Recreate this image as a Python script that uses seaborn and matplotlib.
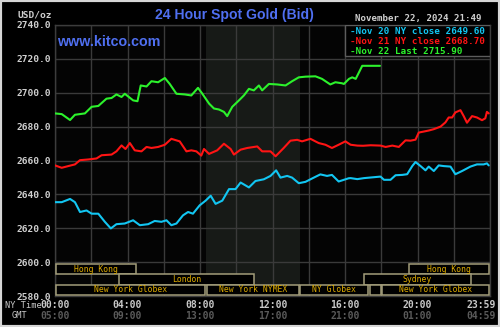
import matplotlib
matplotlib.use("Agg")
import matplotlib.pyplot as plt
import seaborn as sns
import pandas as pd
from matplotlib.patches import Rectangle

# ---- price traces (hour of NY day, USD/oz) ----
nov20_hours = [0, .37, .83, 1.10, 1.38, 1.74, 2.02, 2.39, 2.75, 3.08, 3.39, 3.85, 4.31, 4.68, 5.14,
               5.50, 5.87, 6.15, 6.42, 6.70, 7.06, 7.34, 7.61, 7.98,
               8.31, 8.59, 8.86, 9.23, 9.60, 9.96, 10.24, 10.70, 11.06, 11.52, 11.89, 12.20, 12.44,
               12.81, 13.08, 13.45, 13.82, 14.28, 14.64, 15.01, 15.28, 15.65, 16.20,
               16.31, 16.68, 17.05, 17.96, 18.15, 18.51, 18.79, 19.16, 19.43, 19.71, 19.89, 20.17,
               20.44, 20.62, 20.90, 21.17, 21.45, 21.82, 22.09, 22.46, 22.92, 23.28, 23.65, 23.83, 23.93]
nov20_prices = [2635.4, 2635.4, 2637.3, 2635.4, 2629.6, 2630.5, 2628.6, 2628.6, 2623.8, 2619.9, 2622.4,
                2622.8, 2624.7, 2621.8, 2622.4, 2624.3, 2623.8, 2624.7, 2621.8, 2622.8, 2627.6, 2629.6,
                2628.6, 2633.5,
                2636.3, 2639.2, 2634.4, 2636.3, 2643.1, 2643.1, 2647.0, 2644.1, 2647.9, 2648.9, 2650.9,
                2654.2, 2649.9, 2650.9, 2649.9, 2646.6, 2647.4, 2649.9, 2651.8, 2650.9, 2651.5, 2647.6,
                2649.5,
                2649.6, 2649.0, 2649.6, 2650.5, 2648.6, 2648.6, 2651.3, 2651.5, 2651.9, 2656.7, 2659.1,
                2656.7, 2654.2, 2656.4, 2653.8, 2657.1, 2656.7, 2656.4, 2651.9, 2653.8, 2656.4, 2657.7,
                2657.7, 2658.3, 2657.1]

nov21_hours = [0, .37, .73, 1.10, 1.38, 1.83, 2.29, 2.57, 3.12, 3.39, 3.67, 3.89, 4.13, 4.40, 4.77,
               5.05, 5.32, 5.69, 6.06, 6.42, 6.88, 7.25, 7.52, 7.80, 8.07,
               8.22, 8.50, 8.95, 9.32, 9.69, 9.87, 10.24, 10.61, 11.16, 11.43, 11.89, 12.17, 12.62,
               12.99, 13.36, 13.63, 14.09, 14.55, 14.92, 15.28, 15.65, 16.02,
               16.31, 16.68, 17.00, 17.41, 17.96, 18.24, 18.61, 18.97, 19.34, 19.61, 19.89, 20.07,
               20.35, 20.62, 20.90, 21.27, 21.54, 21.72, 21.91, 22.09, 22.37, 22.55, 22.73, 23.01,
               23.28, 23.56, 23.74, 23.83, 23.93]
nov21_prices = [2657.1, 2655.7, 2656.7, 2657.7, 2660.2, 2660.6, 2661.2, 2663.1, 2663.5, 2665.4, 2668.9,
                2666.8, 2670.3, 2666.0, 2665.4, 2668.0, 2667.4, 2668.0, 2669.3, 2672.8, 2671.3, 2665.4,
                2666.0, 2665.4, 2662.9,
                2666.8, 2663.9, 2666.0, 2669.9, 2666.8, 2663.5, 2666.4, 2667.4, 2668.3, 2665.4, 2665.4,
                2662.5, 2667.4, 2671.7, 2672.2, 2671.3, 2672.8, 2670.3, 2669.3, 2667.4, 2669.3, 2671.3,
                2669.3, 2668.8, 2668.7, 2669.0, 2668.8, 2668.0, 2668.8, 2668.0, 2671.9, 2671.7, 2672.3,
                2676.5, 2677.1, 2677.7, 2678.5, 2680.0, 2682.5, 2685.4, 2685.4, 2688.4, 2689.7, 2686.2,
                2682.3, 2686.2, 2685.4, 2683.8, 2684.9, 2688.7, 2687.8]

nov22_hours = [0, .37, .83, 1.10, 1.65, 2.02, 2.39, 2.84, 3.12, 3.39, 3.67, 3.85, 4.31, 4.55, 4.73,
               5.05, 5.32, 5.69, 6.06, 6.33, 6.70, 7.16, 7.52, 7.89,
               8.13, 8.50, 8.77, 9.05, 9.32, 9.50, 9.78, 10.15, 10.42, 10.70, 10.97, 11.25, 11.43,
               11.80, 12.26, 12.72, 13.08, 13.45, 13.82, 14.37, 14.73, 15.19, 15.47, 15.83,
               15.94, 16.22, 16.40, 16.59, 16.77, 16.95, 17.93]
nov22_prices = [2687.8, 2687.4, 2683.9, 2687.0, 2687.8, 2691.7, 2692.2, 2696.5, 2696.9, 2699.0, 2697.5,
                2699.4, 2695.5, 2695.0, 2704.3, 2703.7, 2706.8, 2706.2, 2708.7, 2705.2, 2699.4, 2699.0,
                2698.4, 2702.9,
                2699.4, 2693.6, 2690.7, 2690.1, 2688.7, 2686.2, 2691.7, 2695.5, 2698.4, 2702.3, 2701.4,
                2704.3, 2701.4, 2705.2, 2704.9, 2704.3, 2706.8, 2709.1, 2709.5, 2709.7, 2708.2, 2704.9,
                2706.2, 2705.6,
                2705.2, 2708.2, 2709.1, 2708.2, 2712.0, 2715.9, 2715.9]

day_names = ["Nov 20", "Nov 21", "Nov 22"]
legend_labels = ["-Nov 20 NY close 2649.60", "-Nov 21 NY close 2668.70", "-Nov 22 Last 2715.90"]
line_colors = ["#12c6f2", "#ff1414", "#2cf22c"]

y_ticks = [2580, 2600, 2620, 2640, 2660, 2680, 2700, 2720, 2740]
ny_time_labels = ["00:00", "04:00", "08:00", "12:00", "16:00", "20:00", "23:59"]
gmt_time_labels = ["05:00", "09:00", "13:00", "17:00", "21:00", "01:00", "04:59"]
time_label_hours = [0, 4, 8, 12, 16, 20, 24]

# trading sessions: (row, start hour, end hour, label)
sessions = [
    (0, 0.0, 4.5, "Hong Kong"),
    (0, 19.5, 24.0, "Hong Kong"),
    (1, 3.5, 11.0, "London"),
    (1, 17.0, 23.0, "Sydney"),
    (2, 0.0, 8.33, "New York Globex"),
    (2, 8.33, 13.5, "New York NYMEX"),
    (2, 13.5, 17.28, "NY Globex"),
    (2, 17.33, 18.0, ""),
    (2, 18.0, 24.0, "New York Globex"),
]
pit_session = (8.33, 13.5)

frames = []
for name, h, p in zip(day_names, [nov20_hours, nov21_hours, nov22_hours],
                      [nov20_prices, nov21_prices, nov22_prices]):
    frames.append(pd.DataFrame({"hour": h, "price": p, "day": name}))
df = pd.concat(frames, ignore_index=True)

sns.set_theme(style="dark", rc={
    "axes.facecolor": "#040404",
    "figure.facecolor": "#000000",
    "axes.edgecolor": "#3c3c3c",
    "grid.color": "#3a3a3a",
})

MONO = "DejaVu Sans Mono"
W, H = 500, 327

fig = plt.figure(figsize=(W / 100, H / 100), dpi=100, facecolor="#000000")
ax_left, ax_right, ax_top, ax_bot = 55, 490, 25, 296
ax = fig.add_axes([ax_left / W, 1 - ax_bot / H, (ax_right - ax_left) / W, (ax_bot - ax_top) / H])

ax.axvspan(*pit_session, color="#171a17", zorder=0.2, lw=0)

sns.lineplot(data=df, x="hour", y="price", hue="day", palette=dict(zip(day_names, line_colors)),
             estimator=None, sort=False, legend=False, lw=1.5, ax=ax, zorder=3)

ax.set_xlim(0, 24)
ax.set_ylim(2580, 2740)
ax.set_xticks(range(0, 25, 2))
ax.set_yticks(y_ticks)
ax.set_yticklabels([f"{v:.1f}" for v in y_ticks])
ax.grid(True, color="#3a3a3a", lw=1.0)
ax.tick_params(axis="x", labelbottom=False, length=0)
ax.tick_params(axis="y", length=0, pad=3, labelsize=6.8, labelcolor="#cfcfcf")
for lab in ax.get_yticklabels():
    lab.set_fontfamily(MONO)
    lab.set_fontweight("bold")
ax.set_xlabel("")
ax.set_ylabel("")
for s in ax.spines.values():
    s.set_color("#3c3c3c")
    s.set_linewidth(1.0)

# session bars along the bottom
row_h = 6.05
row_base = 2580.6
for row, start, end, label in sessions:
    y0 = row_base + (2 - row) * row_h
    ax.add_patch(Rectangle((start + 0.03, y0), end - start - 0.06, row_h, facecolor="#000000",
                           edgecolor="#a39d7a", lw=1.1, zorder=4, clip_on=False))
    if label:
        ax.text((start + end) / 2, y0 + row_h / 2, label, ha="center", va="center",
                fontsize=5.9, family=MONO, color="#dcaa00", zorder=5)

# legend panel
ax.add_patch(Rectangle((16.0, 2721.8), 8.0, 18.2, facecolor="#000000", edgecolor="#5c5c5c",
                       lw=1.0, zorder=4))
for txt, col, yv in zip(legend_labels, line_colors, [2736.4, 2730.5, 2724.6]):
    ax.text(16.25, yv, txt, ha="left", va="center", fontsize=6.7, family=MONO,
            fontweight="bold", color=col, zorder=5)

# time axis labels
for hr, ny, gmt in zip(time_label_hours, ny_time_labels, gmt_time_labels):
    ha = "right" if hr == 24 else "center"
    xx = 24.3 if hr == 24 else hr
    ax.text(xx, 2580 - 9 / 1.694, ny, ha=ha, va="center", fontsize=7, family=MONO,
            fontweight="bold", color="#c8c8c8", clip_on=False)
    ax.text(xx, 2580 - 20 / 1.694, gmt, ha=ha, va="center", fontsize=7, family=MONO,
            fontweight="bold", color="#5a5a5a", clip_on=False)

fig.text(5 / W, 1 - 305 / H, "NY Time", ha="left", va="center", fontsize=6.2, family=MONO,
         color="#c8c8c8")
fig.text(12 / W, 1 - 316 / H, "GMT", ha="left", va="center", fontsize=6.2, family=MONO,
         color="#c8c8c8")

# headings
fig.text(234 / W, 1 - 19.5 / H, "24 Hour Spot Gold (Bid)", ha="center", va="baseline",
         fontsize=10.1, family="Liberation Sans", fontweight="bold", color="#4f6ff0")
fig.text(57 / W, 1 - 46.5 / H, "www.kitco.com", ha="left", va="baseline",
         fontsize=10.3, family="Liberation Sans", fontweight="bold", color="#4f6ff0", zorder=6)
fig.text(18 / W, 1 - 17.5 / H, "USD/oz", ha="left", va="baseline", fontsize=6.8, family=MONO,
         fontweight="bold", color="#cfcfcf")
fig.text(355 / W, 1 - 21.5 / H, "November 22, 2024 21:49", ha="left", va="baseline",
         fontsize=6.6, family=MONO, fontweight="bold", color="#cfcfcf")

# outer frame
fig.patches.append(Rectangle((0, 0), 1, 1, transform=fig.transFigure, fill=False,
                             edgecolor="#d6d6d6", lw=3, zorder=10))

fig.savefig("out.png", dpi=100, facecolor=fig.get_facecolor())
